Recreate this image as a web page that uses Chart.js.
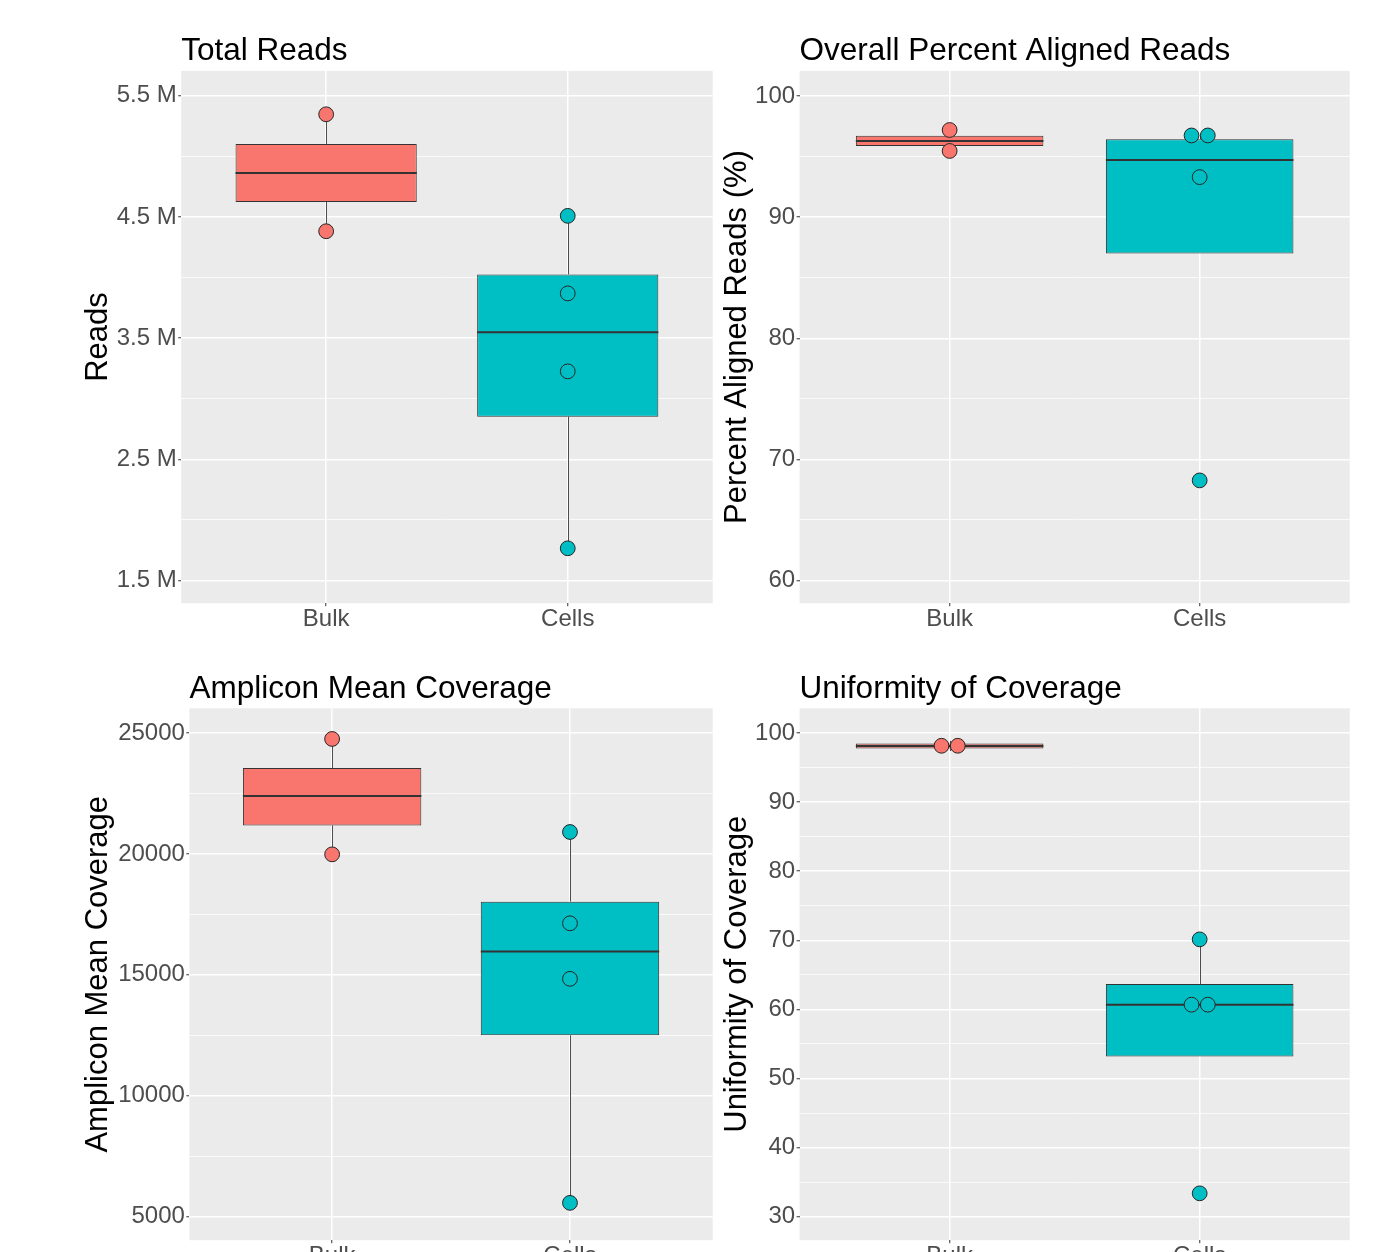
<!DOCTYPE html>
<html>
<head>
<meta charset="utf-8">
<script src="https://cdn.jsdelivr.net/npm/chart.js@4.4.1/dist/chart.umd.min.js"></script>
<style>
  html, body { margin: 0; padding: 0; background: #ffffff; width: 1384px; height: 1252px; overflow: hidden; }
  canvas { position: absolute; }
</style>
</head>
<body>
<canvas id="totalReads"></canvas>
<canvas id="alignedReads"></canvas>
<canvas id="meanCoverage"></canvas>
<canvas id="uniformity"></canvas>
<script>
// ---- data -------------------------------------------------------------
const groups = ['Bulk', 'Cells'];

// Total reads per sample
const readsTicks = [1500000, 2500000, 3500000, 4500000, 5500000];
const readsBulk = [5347000, 4382000];
const readsCells = [4509000, 3869000, 3226000, 1766000];
// box summaries: lower whisker, Q1, median, Q3, upper whisker
const readsBoxBulk = [4382000, 4624000, 4863000, 5101000, 5347000];
const readsBoxCells = [1766000, 2852000, 3549000, 4026000, 4509000];

// Overall percent aligned reads
const alignedTicks = [60, 70, 80, 90, 100];
const alignedBulk = [97.20, 95.47];
const alignedCells = [96.75, 96.75, 93.31, 68.27];
const alignedBoxBulk = [95.47, 95.88, 96.30, 96.72, 97.20];
const alignedBoxCells = [87.01, 87.01, 94.73, 96.43, 96.75];

// Amplicon mean coverage
const coverageTicks = [5000, 10000, 15000, 20000, 25000];
const coverageBulk = [24750, 19980];
const coverageCells = [20905, 17130, 14836, 5577];
const coverageBoxBulk = [19980, 21178, 22395, 23549, 24750];
const coverageBoxCells = [5577, 12504, 15967, 18026, 20905];

// Uniformity of coverage
const uniformityTicks = [30, 40, 50, 60, 70, 80, 90, 100];
const uniformityBulk = [98.14, 98.14];
const uniformityCells = [70.13, 60.68, 60.68, 33.39];
const uniformityBoxBulk = [97.38, 97.74, 98.12, 98.48, 98.84];
const uniformityBoxCells = [53.19, 53.19, 60.68, 63.68, 70.13];

// ---- styling ----------------------------------------------------------
const FILLS = ['#F8766D', '#00BFC4'];
const PANEL_BG = '#EBEBEB';
const TITLE_SIZE = 31.5;
const AXIS_TITLE_SIZE = 31;
const TICK_SIZE = 24;
const BOX_WIDTH = 0.75;   // in category units
const DOT_STEP = 0.065;   // side-by-side spacing of tied dots, category units

Chart.defaults.font.family = '"Liberation Sans", Arial, Helvetica, sans-serif';
Chart.defaults.devicePixelRatio = 1;

const panels = [
  {
    id: 'totalReads', canvas: { x: 0, y: 0, w: 720, h: 645 },
    area: { l: 181.2, r: 712.7, t: 70.9, b: 603.2 },
    titleY: 51, yTitleX: 98.5,
    title: 'Total Reads', yTitle: 'Reads',
    yMin: 1313000, yMax: 5705000,
    ticks: readsTicks, fmt: v => (v / 1e6).toFixed(1) + ' M',
    points: [readsBulk, readsCells], boxes: [readsBoxBulk, readsBoxCells]
  },
  {
    id: 'alignedReads', canvas: { x: 700, y: 0, w: 684, h: 645 },
    area: { l: 799.6, r: 1349.7, t: 70.9, b: 603.2 },
    titleY: 51, yTitleX: 737,
    title: 'Overall Percent Aligned Reads', yTitle: 'Percent Aligned Reads (%)',
    yMin: 58.13, yMax: 102.08,
    ticks: alignedTicks, fmt: v => String(v),
    points: [alignedBulk, alignedCells], boxes: [alignedBoxBulk, alignedBoxCells]
  },
  {
    id: 'meanCoverage', canvas: { x: 0, y: 645, w: 720, h: 607 },
    area: { l: 189.4, r: 712.7, t: 708.3, b: 1240.2 },
    titleY: 689.5, yTitleX: 98.5,
    title: 'Amplicon Mean Coverage', yTitle: 'Amplicon Mean Coverage',
    yMin: 4033, yMax: 26017,
    ticks: coverageTicks, fmt: v => String(v),
    points: [coverageBulk, coverageCells], boxes: [coverageBoxBulk, coverageBoxCells]
  },
  {
    id: 'uniformity', canvas: { x: 700, y: 645, w: 684, h: 607 },
    area: { l: 799.6, r: 1349.7, t: 708.3, b: 1240.2 },
    titleY: 689.5, yTitleX: 737,
    title: 'Uniformity of Coverage', yTitle: 'Uniformity of Coverage',
    yMin: 26.61, yMax: 103.56,
    ticks: uniformityTicks, fmt: v => String(v),
    points: [uniformityBulk, uniformityCells], boxes: [uniformityBoxBulk, uniformityBoxCells]
  }
];

// Tied values within a group are laid side by side around the group centre.
function dotPositions(values, center) {
  const counts = {};
  values.forEach(v => { counts[v] = (counts[v] || 0) + 1; });
  const seen = {};
  return values.map(v => {
    const n = counts[v];
    const k = seen[v] = (seen[v] || 0) + 1;
    return { x: center + (k - 1 - (n - 1) / 2) * DOT_STEP, y: v };
  });
}

const panelBackground = {
  id: 'panelBackground',
  beforeDraw(chart) {
    const { ctx, chartArea: a } = chart;
    ctx.save();
    ctx.fillStyle = PANEL_BG;
    ctx.fillRect(a.left, a.top, a.right - a.left, a.bottom - a.top);
    ctx.restore();
  }
};

// Whiskers (behind the boxes) and medians (on top of the boxes)
function boxParts(boxes) {
  return {
    id: 'boxParts',
    beforeDatasetsDraw(chart) {
      const { ctx, scales: { x, y } } = chart;
      ctx.save();
      ctx.strokeStyle = '#4d4d4d';
      ctx.lineWidth = 1;
      boxes.forEach((b, i) => {
        const px = Math.round(x.getPixelForValue(i + 1)) + 0.5;
        ctx.beginPath();
        ctx.moveTo(px, y.getPixelForValue(b[0]));
        ctx.lineTo(px, y.getPixelForValue(b[1]));
        ctx.moveTo(px, y.getPixelForValue(b[3]));
        ctx.lineTo(px, y.getPixelForValue(b[4]));
        ctx.stroke();
      });
      ctx.restore();
    },
    afterDatasetDraw(chart, args) {
      if (chart.data.datasets[args.index].type !== 'bar') return;
      const { ctx, scales: { x, y } } = chart;
      ctx.save();
      ctx.strokeStyle = '#333333';
      ctx.lineWidth = 2;
      boxes.forEach((b, i) => {
        const py = y.getPixelForValue(b[2]);
        ctx.beginPath();
        ctx.moveTo(x.getPixelForValue(i + 1 - BOX_WIDTH / 2), py);
        ctx.lineTo(x.getPixelForValue(i + 1 + BOX_WIDTH / 2), py);
        ctx.stroke();
      });
      ctx.restore();
    }
  };
}

function buildPanel(p) {
  const cv = document.getElementById(p.id);
  cv.width = p.canvas.w;
  cv.height = p.canvas.h;
  cv.style.left = p.canvas.x + 'px';
  cv.style.top = p.canvas.y + 'px';

  const titleLH = TITLE_SIZE * 1.2;
  const titlePadTop = p.titleY - p.canvas.y - titleLH / 2;
  const titlePadBottom = (p.area.t - p.canvas.y) - titlePadTop - titleLH;
  const yAxisWidth = p.area.l - p.canvas.x;
  const xAxisHeight = p.canvas.y + p.canvas.h - p.area.b;
  const padRight = p.canvas.x + p.canvas.w - p.area.r;
  const yTitlePad = p.yTitleX - p.canvas.x - AXIS_TITLE_SIZE * 1.2 / 2;

  const major = p.ticks;
  const minor = major.slice(1).map((v, i) => (v + major[i]) / 2);
  const allTicks = major.concat(minor).sort((a, b) => a - b);
  const isMajor = v => major.includes(v);

  const dots = [];
  const dotColors = [];
  p.points.forEach((vals, i) => {
    dotPositions(vals, i + 1).forEach(pt => { dots.push(pt); dotColors.push(FILLS[i]); });
  });

  const noPad = s => { s.paddingTop = 0; s.paddingBottom = 0; s.paddingLeft = 0; s.paddingRight = 0; };

  new Chart(cv, {
    type: 'scatter',
    data: {
      datasets: [
        {
          type: 'scatter',
          data: dots,
          pointRadius: 7.4,
          pointBorderWidth: 1,
          pointBackgroundColor: dotColors,
          pointBorderColor: '#262626',
          order: 1
        },
        {
          type: 'bar',
          data: p.boxes.map((b, i) => ({ x: i + 1, y: [b[1], b[3]] })),
          backgroundColor: FILLS,
          borderColor: '#333333',
          borderWidth: 1,
          borderSkipped: false,
          barPercentage: BOX_WIDTH,
          categoryPercentage: 1,
          order: 2
        }
      ]
    },
    options: {
      responsive: false,
      animation: false,
      events: [],
      layout: { autoPadding: false, padding: { left: 0, top: 0, bottom: 0, right: padRight } },
      plugins: {
        legend: { display: false },
        tooltip: { enabled: false },
        title: {
          display: true,
          text: p.title,
          align: 'start',
          fullSize: false,
          color: '#000000',
          font: { size: TITLE_SIZE, weight: 'normal', lineHeight: 1.2 },
          padding: { top: titlePadTop, bottom: titlePadBottom }
        }
      },
      scales: {
        x: {
          type: 'linear',
          min: 0.4,
          max: 2.6,
          offset: false,
          bounds: 'data',
          afterBuildTicks: s => { s.ticks = groups.map((g, i) => ({ value: i + 1 })); },
          afterFit: s => { s.height = xAxisHeight; noPad(s); },
          border: { display: false },
          grid: { offset: false, color: '#ffffff', lineWidth: 1.5, drawTicks: true, tickLength: 3, tickColor: '#333333', tickWidth: 1 },
          ticks: {
            autoSkip: false,
            maxRotation: 0,
            padding: 1,
            color: '#4D4D4D',
            font: { size: TICK_SIZE, lineHeight: 1 },
            callback: (v, i) => groups[i]
          }
        },
        y: {
          type: 'linear',
          min: p.yMin,
          max: p.yMax,
          bounds: 'data',
          afterBuildTicks: s => { s.ticks = allTicks.map(v => ({ value: v })); },
          afterFit: s => { s.width = yAxisWidth; noPad(s); },
          border: { display: false },
          grid: {
            color: '#ffffff',
            lineWidth: c => (c.tick && isMajor(c.tick.value)) ? 1.5 : 0.75,
            drawTicks: true,
            tickLength: 3,
            tickColor: c => (c.tick && isMajor(c.tick.value)) ? '#333333' : 'rgba(0,0,0,0)',
            tickWidth: 1
          },
          ticks: {
            autoSkip: false,
            padding: 1.5,
            color: '#4D4D4D',
            font: { size: TICK_SIZE, lineHeight: 1 },
            callback: v => isMajor(v) ? p.fmt(v) : ''
          },
          title: {
            display: true,
            text: p.yTitle,
            color: '#000000',
            font: { size: AXIS_TITLE_SIZE, weight: 'normal', lineHeight: 1.2 },
            padding: { top: yTitlePad, bottom: 0 }
          }
        }
      }
    },
    plugins: [panelBackground, boxParts(p.boxes)]
  });
}

panels.forEach(buildPanel);
</script>
</body>
</html>
